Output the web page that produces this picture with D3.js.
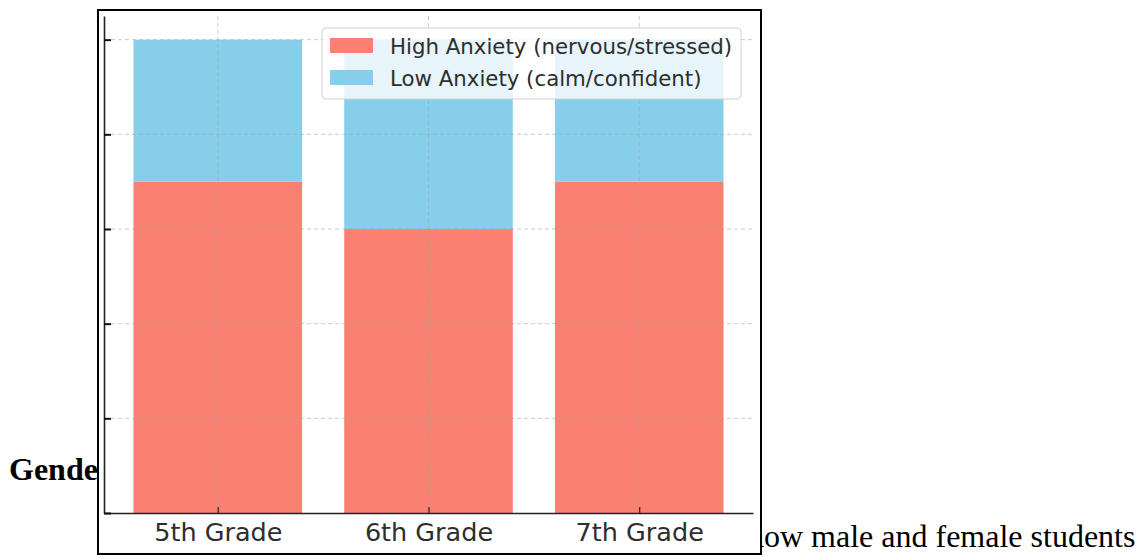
<!DOCTYPE html>
<html>
<head>
<meta charset="utf-8">
<script src="https://cdn.jsdelivr.net/npm/d3@7"></script>
<style>
  body { margin: 0; background: #fff; }
  svg { display: block; }
</style>
</head>
<body>
<div id="chart"></div>
<script>
// Chart data
const grades = ["5th Grade", "6th Grade", "7th Grade"];
const highAnxiety = [70, 60, 70];
const lowAnxiety = [30, 40, 30];
const yTicks = [0, 20, 40, 60, 80, 100];
const seriesNames = ["High Anxiety (nervous/stressed)", "Low Anxiety (calm/confident)"];
const seriesColors = ["#FA8072", "#87CEEB"];

const W = 1141, H = 556;

const svg = d3.select("#chart")
  .append("svg")
  .attr("width", W)
  .attr("height", H);

// Surrounding document text (partly hidden under the figure)
svg.append("text")
  .attr("x", 9)
  .attr("y", 480)
  .attr("font-family", "Liberation Serif, Times New Roman, serif")
  .attr("font-weight", "bold")
  .attr("font-size", 32)
  .attr("fill", "#000")
  .text("Gender");

svg.append("text")
  .attr("x", 748)
  .attr("y", 547)
  .attr("font-family", "Liberation Serif, Times New Roman, serif")
  .attr("font-size", 32)
  .attr("fill", "#000")
  .text("how male and female students");

// Figure frame
const frame = { x: 98, y: 10, w: 663, h: 544 };

svg.append("clipPath")
  .attr("id", "frameClip")
  .append("rect")
  .attr("x", frame.x)
  .attr("y", frame.y)
  .attr("width", frame.w)
  .attr("height", frame.h);

svg.append("rect")
  .attr("x", frame.x)
  .attr("y", frame.y)
  .attr("width", frame.w)
  .attr("height", frame.h)
  .attr("fill", "#fff");

const fig = svg.append("g").attr("clip-path", "url(#frameClip)");

// Scales (bars at 0,1,2 with width 0.8, matplotlib-like margins)
const x = d3.scaleLinear().domain([-0.54, 2.54]).range([104, 753]);
const y = d3.scaleLinear().domain([0, 105]).range([513, 16]);
const barWidth = 0.8;

// Stack the two series
const stacked = grades.map((g, i) => ({
  grade: g,
  i: i,
  parts: [
    { key: 0, y0: 0, y1: highAnxiety[i] },
    { key: 1, y0: highAnxiety[i], y1: highAnxiety[i] + lowAnxiety[i] }
  ]
}));

const barGroups = fig.selectAll(".bar")
  .data(stacked)
  .enter()
  .append("g")
  .attr("class", "bar");

barGroups.selectAll("rect")
  .data((d) => d.parts.map((p) => ({ ...p, i: d.i })))
  .enter()
  .append("rect")
  .attr("x", (d) => x(d.i - barWidth / 2))
  .attr("width", (d) => x(barWidth) - x(0))
  .attr("y", (d) => y(d.y1))
  .attr("height", (d) => y(d.y0) - y(d.y1))
  .attr("fill", (d) => seriesColors[d.key]);

// Grid lines (dashed, drawn over bars with some transparency)
const grid = fig.append("g").attr("class", "grid");

grid.selectAll(".hgrid")
  .data(yTicks.filter((t) => t > 0))
  .enter()
  .append("line")
  .attr("x1", x.range()[0])
  .attr("x2", x.range()[1])
  .attr("y1", (d) => y(d))
  .attr("y2", (d) => y(d))
  .attr("stroke", "#a0a0a0")
  .attr("stroke-opacity", 0.55)
  .attr("stroke-dasharray", "4,3")
  .attr("stroke-width", 1);

grid.selectAll(".vgrid")
  .data(grades.map((g, i) => i))
  .enter()
  .append("line")
  .attr("x1", (d) => x(d))
  .attr("x2", (d) => x(d))
  .attr("y1", y.range()[1])
  .attr("y2", y.range()[0])
  .attr("stroke", "#a0a0a0")
  .attr("stroke-opacity", 0.55)
  .attr("stroke-dasharray", "4,3")
  .attr("stroke-width", 1);

// Axes: ticks point inward, y labels fall outside the cropped figure
const xAxis = d3.axisBottom(x)
  .tickValues(grades.map((g, i) => i))
  .tickFormat((d) => grades[d])
  .tickSizeInner(-6)
  .tickSizeOuter(0)
  .tickPadding(10);

const yAxis = d3.axisLeft(y)
  .tickValues(yTicks)
  .tickSizeInner(-7)
  .tickSizeOuter(0)
  .tickPadding(10);

const xAxisGroup = fig.append("g")
  .attr("transform", `translate(0, ${y(0)})`)
  .call(xAxis);

xAxisGroup.select(".domain").attr("stroke", "#222").attr("stroke-width", 1.6);
xAxisGroup.selectAll(".tick line").attr("stroke", "#222").attr("stroke-width", 1.2);
xAxisGroup.selectAll(".tick text")
  .attr("font-family", "DejaVu Sans, sans-serif")
  .attr("font-size", 25.5)
  .attr("fill", "#2e2e2e")
  .attr("dy", "0.71em");

const yAxisGroup = fig.append("g")
  .attr("transform", `translate(${x.range()[0]}, 0)`)
  .call(yAxis);

yAxisGroup.select(".domain").attr("stroke", "#222").attr("stroke-width", 1.6);
yAxisGroup.selectAll(".tick line").attr("stroke", "#111").attr("stroke-width", 2);
yAxisGroup.selectAll(".tick text")
  .attr("font-family", "DejaVu Sans, sans-serif")
  .attr("font-size", 25)
  .attr("fill", "#333");

// Legend
const legend = fig.append("g").attr("transform", "translate(322, 28)");

legend.append("rect")
  .attr("width", 419)
  .attr("height", 71)
  .attr("rx", 4)
  .attr("fill", "#fff")
  .attr("fill-opacity", 0.8)
  .attr("stroke", "#d0d0d0")
  .attr("stroke-width", 1);

const items = legend.selectAll(".item")
  .data(seriesNames)
  .enter()
  .append("g")
  .attr("class", "item")
  .attr("transform", (d, i) => `translate(8, ${10 + i * 32})`);

items.append("rect")
  .attr("width", 43)
  .attr("height", 15)
  .attr("fill", (d, i) => seriesColors[i]);

items.append("text")
  .attr("x", 60)
  .attr("y", 16)
  .attr("font-family", "DejaVu Sans, sans-serif")
  .attr("font-size", 21.3)
  .attr("fill", "#2e2e2e")
  .text((d) => d);

// Frame border on top
svg.append("rect")
  .attr("x", frame.x)
  .attr("y", frame.y)
  .attr("width", frame.w)
  .attr("height", frame.h)
  .attr("fill", "none")
  .attr("stroke", "#000")
  .attr("stroke-width", 2);
</script>
</body>
</html>
